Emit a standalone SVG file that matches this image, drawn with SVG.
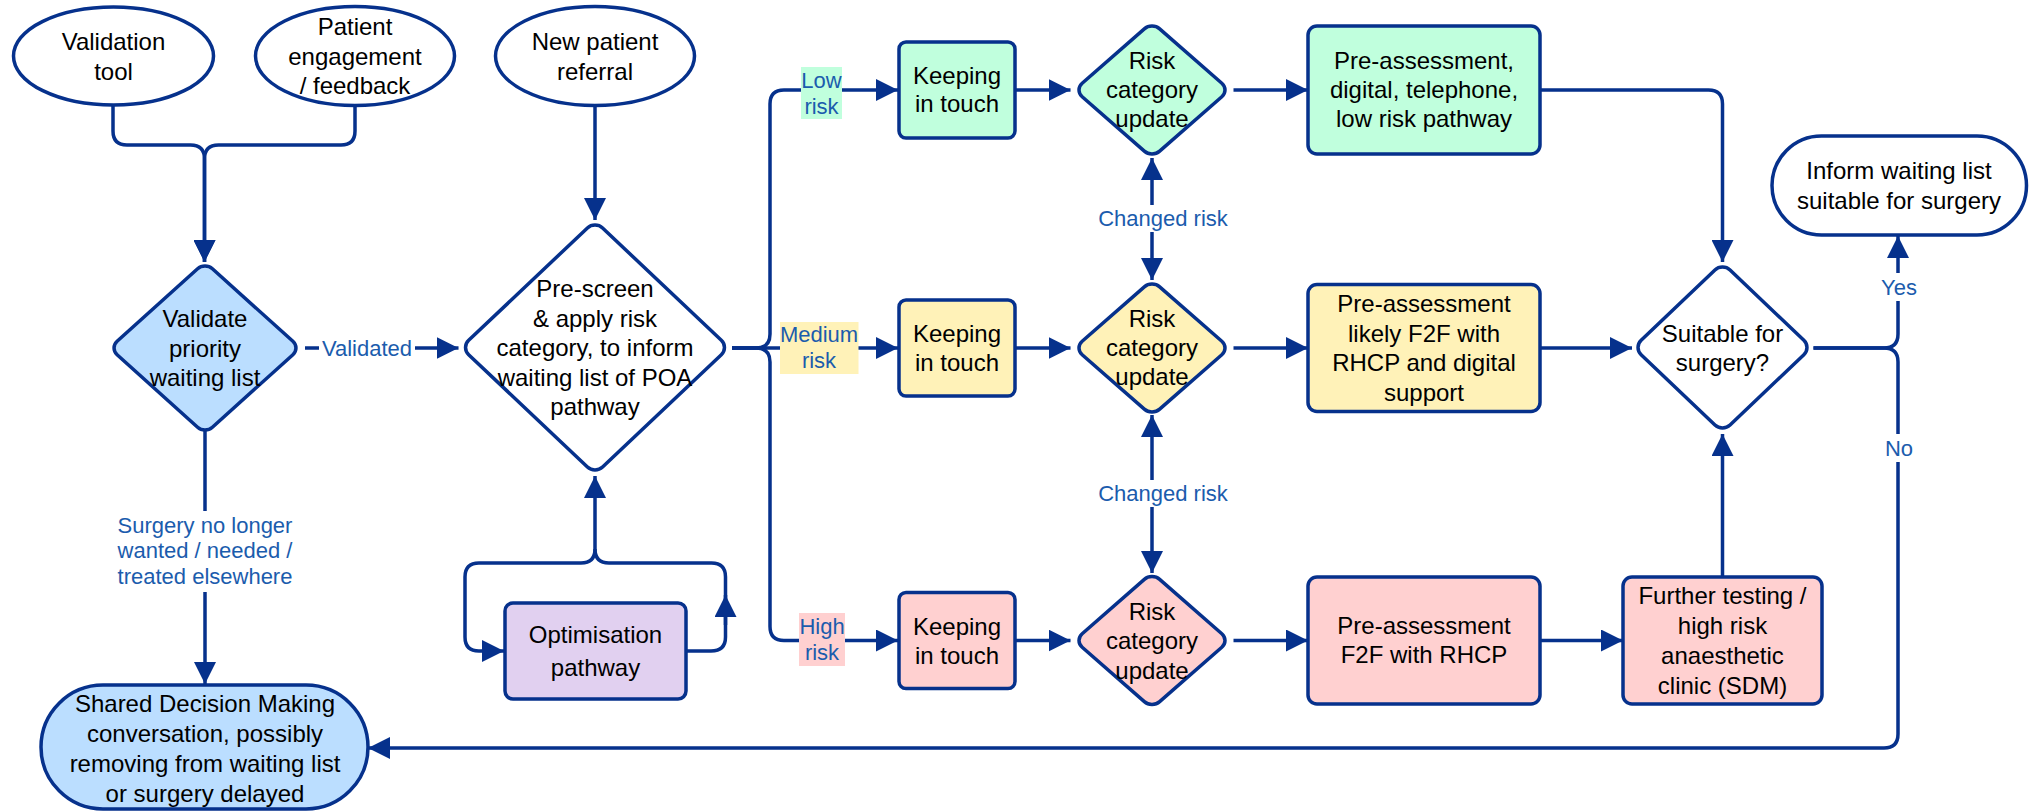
<svg xmlns="http://www.w3.org/2000/svg" width="2034" height="812" viewBox="0 0 2034 812">
<style>
.n{stroke:#06318C;stroke-width:3.5;}
.w{fill:#FFFFFF;}
.blue{fill:#BBDEFF;}
.mint{fill:#C0FFDD;}
.yel{fill:#FFF2B8;}
.pink{fill:#FFD0D0;}
.lav{fill:#E1D0F0;}
.dm{vector-effect:non-scaling-stroke;}
.t{font-family:"Liberation Sans",Arial,sans-serif;font-size:24px;fill:#000;text-anchor:middle;dominant-baseline:central;}
.l{font-family:"Liberation Sans",Arial,sans-serif;font-size:22px;fill:#1B5CAD;text-anchor:middle;dominant-baseline:central;}
.c{fill:none;stroke:#06318C;stroke-width:3.5;marker-end:url(#ah);}
.c2{fill:none;stroke:#06318C;stroke-width:3.5;marker-start:url(#ah);marker-end:url(#ah);}
.p{fill:none;stroke:#06318C;stroke-width:3.5;}
</style>
<defs>
<marker id="ah" viewBox="0 0 22 22" refX="22" refY="11" markerWidth="22" markerHeight="22" markerUnits="userSpaceOnUse" orient="auto-start-reverse"><path d="M0,0 L22,11 L0,22 Z" fill="#06318C"/></marker>
</defs>
<rect width="2034" height="812" fill="#FFFFFF"/>
<g id="connectors">
<path class="c" d="M113,105 V131 Q113,145 127,145 H190.5 Q204.5,145 204.5,159 V262"/>
<path class="c" d="M355,106 V131 Q355,145 341,145 H218.5 Q204.5,145 204.5,159 V262"/>
<path class="c" d="M595,106 V220"/>
<path class="c" d="M305,348 H458.5"/>
<path class="c" d="M205,430 V684"/>
<path class="c" d="M732,348 H756 Q770,348 770,334 V104 Q770,90 784,90 H898"/>
<path class="c" d="M732,348 H898"/>
<path class="c" d="M732,348 H756 Q770,348 770,362 V626.5 Q770,640.5 784,640.5 H898"/>
<path class="c" d="M1015,90 H1070.5"/>
<path class="c" d="M1015,348 H1070.5"/>
<path class="c" d="M1015,640.5 H1070.5"/>
<path class="c" d="M1233.5,90 H1308"/>
<path class="c" d="M1233.5,348 H1308"/>
<path class="c" d="M1233.5,640.5 H1308"/>
<path class="c2" d="M1152,158 V280"/>
<path class="c2" d="M1152,415 V573"/>
<path class="c" d="M1540,90 H1708.5 Q1722.5,90 1722.5,104 V262"/>
<path class="c" d="M1540,348 H1632"/>
<path class="c" d="M1540,640.5 H1623"/>
<path class="c" d="M1722.5,577 V434"/>
<path class="c" d="M1813.5,348 H1884 Q1898,348 1898,334 V236"/>
<path class="c" d="M1813.5,348 H1884 Q1898,348 1898,362 V734 Q1898,748 1884,748 H368"/>
<path class="c" d="M686,651 H711 Q725.5,651 725.5,637 V577 Q725.5,563 711.5,563 H609 Q595,563 595,549 V476"/>
<path class="c" d="M595,549 Q595,563 581,563 H479 Q465,563 465,577 V637 Q465,651 479,651 H504"/>
<path class="c" d="M725.5,625 V595"/>
</g>
<g id="labels">
<rect x="319" y="336" width="96" height="24" fill="#FFFFFF"/>
<text class="l" x="367" y="348">Validated</text>
<rect x="115" y="511" width="180" height="81" fill="#FFFFFF"/>
<text class="l" x="205" y="525">Surgery no longer</text>
<text class="l" x="205" y="550.5">wanted / needed /</text>
<text class="l" x="205" y="576">treated elsewhere</text>
<rect x="801" y="67" width="41" height="52" class="mint"/>
<text class="l" x="821.5" y="80">Low</text>
<text class="l" x="821.5" y="106">risk</text>
<rect x="780" y="322" width="78.5" height="52" class="yel"/>
<text class="l" x="819" y="334">Medium</text>
<text class="l" x="819" y="360">risk</text>
<rect x="799" y="613" width="46" height="53" class="pink"/>
<text class="l" x="822" y="626">High</text>
<text class="l" x="822" y="652">risk</text>
<rect x="1097" y="205" width="133" height="27" fill="#FFFFFF"/>
<text class="l" x="1163" y="218">Changed risk</text>
<rect x="1097" y="480" width="133" height="27" fill="#FFFFFF"/>
<text class="l" x="1163" y="493">Changed risk</text>
<rect x="1880" y="273" width="38" height="28" fill="#FFFFFF"/>
<text class="l" x="1899" y="287">Yes</text>
<rect x="1884" y="434" width="30" height="28" fill="#FFFFFF"/>
<text class="l" x="1899" y="448">No</text>
</g>
<g id="validation-tool">
<ellipse class="n w" cx="113.5" cy="56" rx="100" ry="49"/>
<text class="t" x="113.5" y="41">Validation</text>
<text class="t" x="113.5" y="71">tool</text>
</g>
<g id="patient-engagement">
<ellipse class="n w" cx="355" cy="56" rx="99.5" ry="49.5"/>
<text class="t" x="355" y="26">Patient</text>
<text class="t" x="355" y="56">engagement</text>
<text class="t" x="355" y="85">/ feedback</text>
</g>
<g id="new-patient-referral">
<ellipse class="n w" cx="595" cy="56" rx="99.5" ry="49.5"/>
<text class="t" x="595" y="41">New patient</text>
<text class="t" x="595" y="71">referral</text>
</g>
<g id="validate">
<rect class="n blue dm" x="-70.71" y="-70.71" width="141.42" height="141.42" rx="11" transform="translate(205 348) scale(0.953 0.859) rotate(45)"/>
<text class="t" x="205" y="318">Validate</text>
<text class="t" x="205" y="348">priority</text>
<text class="t" x="205" y="377">waiting list</text>
</g>
<g id="pre-screen">
<rect class="n w dm" x="-70.71" y="-70.71" width="141.42" height="141.42" rx="8" transform="translate(595 347.5) scale(1.339 1.267) rotate(45)"/>
<text class="t" x="595" y="288">Pre-screen</text>
<text class="t" x="595" y="318">&amp; apply risk</text>
<text class="t" x="595" y="347.5">category, to inform</text>
<text class="t" x="595" y="377">waiting list of POA</text>
<text class="t" x="595" y="406">pathway</text>
</g>
<g id="shared-decision">
<rect class="n blue" x="41" y="685" width="327" height="124" rx="62" ry="62"/>
<text class="t" x="205" y="703">Shared Decision Making</text>
<text class="t" x="205" y="733">conversation, possibly</text>
<text class="t" x="205" y="763">removing from waiting list</text>
<text class="t" x="205" y="793">or surgery delayed</text>
</g>
<g id="optimisation">
<rect class="n lav" x="505" y="603" width="181" height="96" rx="8"/>
<text class="t" x="595.5" y="634">Optimisation</text>
<text class="t" x="595.5" y="667">pathway</text>
</g>
<g id="keeping-low">
<rect class="n mint" x="899" y="42" width="116" height="96" rx="7"/>
<text class="t" x="957" y="75">Keeping</text>
<text class="t" x="957" y="103">in touch</text>
</g>
<g id="keeping-medium">
<rect class="n yel" x="899" y="300" width="116" height="96" rx="7"/>
<text class="t" x="957" y="333">Keeping</text>
<text class="t" x="957" y="362">in touch</text>
</g>
<g id="keeping-high">
<rect class="n pink" x="899" y="592.5" width="116" height="96" rx="7"/>
<text class="t" x="957" y="626">Keeping</text>
<text class="t" x="957" y="655">in touch</text>
</g>
<g id="risk-low">
<rect class="n mint dm" x="-70.71" y="-70.71" width="141.42" height="141.42" rx="14" transform="translate(1152 90) scale(0.775 0.679) rotate(45)"/>
<text class="t" x="1152" y="60">Risk</text>
<text class="t" x="1152" y="89">category</text>
<text class="t" x="1152" y="118">update</text>
</g>
<g id="risk-medium">
<rect class="n yel dm" x="-70.71" y="-70.71" width="141.42" height="141.42" rx="14" transform="translate(1152 348) scale(0.775 0.679) rotate(45)"/>
<text class="t" x="1152" y="318">Risk</text>
<text class="t" x="1152" y="347">category</text>
<text class="t" x="1152" y="376">update</text>
</g>
<g id="risk-high">
<rect class="n pink dm" x="-70.71" y="-70.71" width="141.42" height="141.42" rx="14" transform="translate(1152 640.5) scale(0.775 0.679) rotate(45)"/>
<text class="t" x="1152" y="611">Risk</text>
<text class="t" x="1152" y="640.5">category</text>
<text class="t" x="1152" y="670">update</text>
</g>
<g id="preassess-low">
<rect class="n mint" x="1308" y="26" width="232" height="128" rx="9"/>
<text class="t" x="1424" y="60">Pre-assessment,</text>
<text class="t" x="1424" y="89">digital, telephone,</text>
<text class="t" x="1424" y="118">low risk pathway</text>
</g>
<g id="preassess-medium">
<rect class="n yel" x="1308" y="284.5" width="232" height="127" rx="9"/>
<text class="t" x="1424" y="303">Pre-assessment</text>
<text class="t" x="1424" y="333">likely F2F with</text>
<text class="t" x="1424" y="362">RHCP and digital</text>
<text class="t" x="1424" y="392">support</text>
</g>
<g id="preassess-high">
<rect class="n pink" x="1308" y="577" width="232" height="127" rx="9"/>
<text class="t" x="1424" y="625">Pre-assessment</text>
<text class="t" x="1424" y="654">F2F with RHCP</text>
</g>
<g id="further-testing">
<rect class="n pink" x="1623" y="577" width="199" height="127" rx="9"/>
<text class="t" x="1722.5" y="595">Further testing /</text>
<text class="t" x="1722.5" y="625">high risk</text>
<text class="t" x="1722.5" y="655">anaesthetic</text>
<text class="t" x="1722.5" y="685">clinic (SDM)</text>
</g>
<g id="suitable">
<rect class="n w dm" x="-70.71" y="-70.71" width="141.42" height="141.42" rx="12" transform="translate(1722.5 347.5) scale(0.889 0.847) rotate(45)"/>
<text class="t" x="1722.5" y="333">Suitable for</text>
<text class="t" x="1722.5" y="362">surgery?</text>
</g>
<g id="inform">
<rect class="n w" x="1772" y="136" width="254.5" height="99" rx="49.5" ry="49.5"/>
<text class="t" x="1899" y="170">Inform waiting list</text>
<text class="t" x="1899" y="200">suitable for surgery</text>
</g>
</svg>
